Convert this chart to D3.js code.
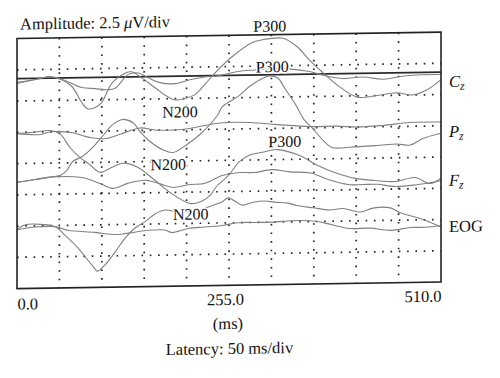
<!DOCTYPE html>
<html>
<head>
<meta charset="utf-8">
<script src="https://cdn.jsdelivr.net/npm/d3@7"></script>
<style>
  html, body { margin: 0; padding: 0; background: #fff; }
  svg { display: block; font-family: "Liberation Serif", "DejaVu Serif", serif; }
</style>
</head>
<body>
<svg id="chart" width="500" height="378"></svg>
<script>
// latency in ms, amplitude in uV (2.5 uV per division)
const czTarget = [[0,6.4],[22,6.7],[40,6.9],[52,6.7],[66,6.1],[78,4.8],[85,4.3],[94,4.4],[102,4.8],[114,6.3],[130,7.1],[138,7.2],[150,6.7],[166,5.9],[178,5.3],[190,4.9],[202,5.0],[214,5.3],[226,6.1],[238,7.0],[259,8.3],[283,9.4],[295,9.6],[307,9.7],[320,9.7],[337,9.0],[352,7.9],[368,6.9],[385,5.9],[409,4.9],[433,5.0],[457,5.2],[476,5.0],[493,5.4],[510,6.2]];
const czStandard = [[0,6.5],[22,6.7],[37,6.9],[49,6.8],[64,6.4],[78,6.0],[94,5.9],[109,5.8],[118,5.9],[134,7.0],[146,7.1],[158,6.7],[172,6.3],[190,6.2],[208,6.5],[226,6.7],[244,6.8],[266,7.1],[286,7.2],[310,7.3],[332,7.2],[352,7.0],[368,6.7],[392,6.4],[416,6.5],[440,6.3],[461,6.5],[481,6.6],[510,6.6]];
const pzTarget = [[0,-1.5],[22,-1.3],[40,-1.1],[52,-1.0],[60,-0.6],[67,0.1],[79,0.5],[91,1.2],[103,2.1],[115,3.0],[127,3.4],[140,3.1],[148,2.4],[160,1.6],[176,0.9],[188,0.7],[204,1.3],[220,2.1],[241,3.6],[247,4.3],[266,5.1],[280,5.9],[295,6.5],[304,6.7],[314,6.5],[322,5.7],[334,4.5],[346,3.1],[355,2.5],[368,1.5],[379,0.9],[400,0.9],[433,1.0],[457,1.1],[473,1.0],[488,1.5],[510,1.9]];
const pzStandard = [[0,2.4],[28,2.3],[40,2.5],[52,2.5],[67,2.4],[88,2.0],[108,1.9],[132,2.4],[148,2.7],[168,2.5],[188,2.5],[208,2.6],[244,3.0],[280,3.0],[313,2.8],[352,2.6],[385,2.6],[409,2.5],[440,2.6],[473,2.8],[510,2.8]];
const fzTarget = [[0,2.4],[22,2.5],[40,2.6],[52,2.3],[64,1.2],[76,0.4],[88,-0.2],[100,-0.8],[115,-0.4],[127,-0.1],[144,-0.4],[164,-1.4],[184,-2.5],[208,-3.4],[220,-3.3],[232,-2.8],[241,-2.0],[253,-1.3],[268,-0.1],[280,0.4],[295,0.6],[313,0.8],[340,0.3],[361,-0.5],[382,-1.1],[407,-1.6],[431,-1.8],[455,-1.9],[479,-1.6],[497,-2.1],[510,-1.7]];
const fzStandard = [[0,-1.5],[22,-1.3],[49,-1.1],[78,-1.2],[100,-1.7],[115,-2.1],[134,-1.7],[156,-1.5],[172,-1.8],[188,-2.1],[206,-1.9],[226,-1.8],[247,-1.2],[266,-1.0],[286,-1.0],[307,-0.8],[328,-1.0],[352,-1.1],[376,-1.7],[400,-2.1],[416,-2.1],[433,-2.1],[455,-2.3],[479,-2.2],[510,-1.9]];
const eogTarget = [[0,-5.3],[10,-4.9],[30,-4.9],[46,-5.1],[58,-5.8],[73,-6.8],[90,-8.2],[97,-8.7],[106,-8.2],[118,-7.2],[130,-6.1],[142,-5.3],[154,-4.8],[166,-4.2],[178,-3.9],[196,-4.1],[214,-4.0],[235,-3.6],[247,-3.3],[254,-3.0],[271,-3.6],[283,-3.4],[298,-3.3],[310,-3.4],[326,-3.5],[337,-3.7],[356,-3.9],[376,-4.1],[392,-4.0],[413,-4.3],[428,-4.0],[449,-4.0],[461,-4.4],[481,-4.8],[497,-5.2],[510,-5.6]];
const eogStandard = [[0,-5.3],[22,-5.1],[46,-5.1],[61,-5.4],[94,-5.6],[118,-5.8],[134,-5.7],[158,-5.5],[178,-5.5],[186,-5.7],[206,-5.4],[226,-5.3],[247,-5.2],[266,-5.0],[286,-5.0],[307,-5.0],[337,-4.9],[361,-5.0],[380,-5.3],[400,-5.6],[425,-5.6],[449,-5.8],[473,-5.6],[491,-5.6],[510,-5.5]];

const referenceUv = 6.8;
const xTickValues = [0, 255, 510];
const xTickLabels = ["0.0", "255.0", "510.0"];
const xGridMs = [51, 102, 153, 204, 255, 306, 357, 408, 459];
const yGridUv = [7.5, 5, 2.5, 0, -2.5, -5, -7.5];

const peakNames = ["P300", "P300", "P300", "N200", "N200", "N200"];
const peakMs = [304, 307, 322, 196, 182, 209];
const peakUv = [10.25, 7.0, 1.0, 3.5, -0.7, -4.7];

const channelNames = ["C", "P", "F", "EOG"];
const channelUv = [5.6, 1.6, -2.3, -6.0];

const svg = d3.select("#chart");
const x = d3.scaleLinear().domain([0, 510]).range([17, 441]);
const y = d3.scaleLinear().domain([-10, 10]).range([285, 35]);

// the scan is slightly sheared, right side sits higher
const g = svg.append("g").attr("transform", "translate(0,3.84) skewY(-0.88)");

// dotted grid
g.append("g")
  .selectAll("line")
  .data(xGridMs)
  .join("line")
  .attr("x1", d => x(d)).attr("x2", d => x(d))
  .attr("y1", y(10)).attr("y2", y(-10))
  .attr("stroke", "#222")
  .attr("stroke-width", 1.7)
  .attr("stroke-dasharray", "1.6,7");

g.append("g")
  .selectAll("line")
  .data(yGridUv)
  .join("line")
  .attr("x1", x(0)).attr("x2", x(510))
  .attr("y1", d => y(d)).attr("y2", d => y(d))
  .attr("stroke", "#222")
  .attr("stroke-width", 1.7)
  .attr("stroke-dasharray", "1.6,6.7");

// solid reference line
g.append("line")
  .attr("x1", x(0)).attr("x2", x(510))
  .attr("y1", y(referenceUv)).attr("y2", y(referenceUv))
  .attr("stroke", "#2a2a2a")
  .attr("stroke-width", 1.8);

const line = d3.line()
  .x(d => x(d[0]))
  .y(d => y(d[1]))
  .curve(d3.curveCatmullRom.alpha(0.5));

const traces = [czTarget, czStandard, pzTarget, pzStandard, fzTarget, fzStandard, eogTarget, eogStandard];
g.append("g")
  .selectAll("path")
  .data(traces)
  .join("path")
  .attr("d", line)
  .attr("fill", "none")
  .attr("stroke", "#808080")
  .attr("stroke-width", 1.1);

// frame
g.append("rect")
  .attr("x", x(0)).attr("y", y(10))
  .attr("width", x(510) - x(0)).attr("height", y(-10) - y(10))
  .attr("fill", "none")
  .attr("stroke", "#222")
  .attr("stroke-width", 1.6);

// peak labels
g.append("g")
  .selectAll("text")
  .data(peakNames)
  .join("text")
  .attr("x", (d, i) => x(peakMs[i]))
  .attr("y", (d, i) => y(peakUv[i]))
  .attr("text-anchor", "middle")
  .attr("font-size", 16)
  .attr("fill", "#111")
  .attr("stroke", "#fff")
  .attr("stroke-width", 3)
  .attr("paint-order", "stroke")
  .text(d => d);

// channel labels
const ch = g.append("g")
  .selectAll("text")
  .data(channelNames)
  .join("text")
  .attr("x", 449)
  .attr("y", (d, i) => y(channelUv[i]))
  .attr("font-size", 16.5)
  .attr("fill", "#111");
ch.append("tspan")
  .attr("font-style", (d) => d === "EOG" ? "normal" : "italic")
  .text(d => d);
ch.filter(d => d !== "EOG")
  .append("tspan")
  .attr("font-style", "italic")
  .attr("font-size", 12)
  .attr("dy", 3)
  .text("z");

// x tick labels
const ax = g.append("g")
  .attr("transform", "translate(0," + y(-10) + ")")
  .call(d3.axisBottom(x).tickValues(xTickValues).tickSize(0).tickFormat((d, i) => xTickLabels[i]));
ax.select(".domain").remove();
ax.selectAll("text")
  .attr("font-family", "Liberation Serif, serif")
  .attr("font-size", 16.5)
  .attr("fill", "#111")
  .attr("y", 0)
  .attr("dy", 0)
  .attr("transform", (d, i) => "translate(" + [0, -4, 0][i] + "," + [21, 19.6, 19.6][i] + ")")
  .attr("text-anchor", (d, i) => ["start", "middle", "end"][i]);

// titles
g.append("text")
  .attr("x", 20).attr("y", 26)
  .attr("font-size", 16.5).attr("fill", "#111")
  .html('Amplitude: 2.5 <tspan font-style="italic">\u03bc</tspan>V/div');

g.append("text")
  .attr("x", 228).attr("y", 328.7)
  .attr("text-anchor", "middle")
  .attr("font-size", 16.5).attr("fill", "#111")
  .text("(ms)");

g.append("text")
  .attr("x", 229.5).attr("y", 353.7)
  .attr("text-anchor", "middle")
  .attr("font-size", 16.5).attr("fill", "#111")
  .text("Latency: 50 ms/div");
</script>
</body>
</html>
